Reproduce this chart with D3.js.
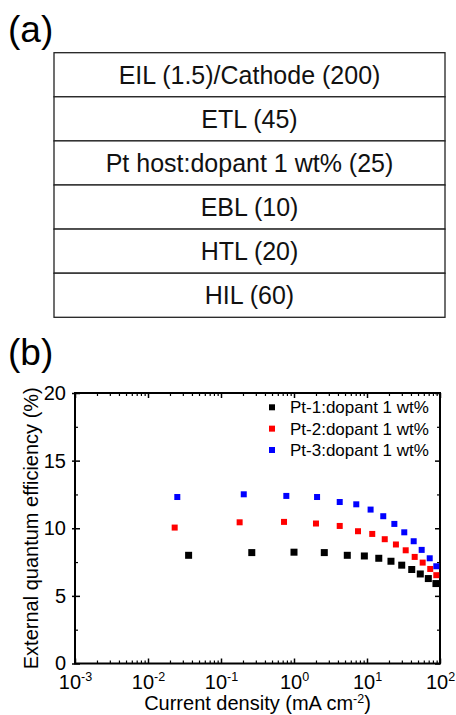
<!DOCTYPE html>
<html><head><meta charset="utf-8">
<script src="https://cdn.jsdelivr.net/npm/d3@7"></script>
<style>body{margin:0;background:#fff;} svg{display:block;font-family:"Liberation Sans",Arial,sans-serif;}</style>
</head><body>
<script>
// Device structure layers (top to bottom)
const layers = ["EIL (1.5)/Cathode (200)", "ETL (45)", "Pt host:dopant 1 wt% (25)", "EBL (10)", "HTL (20)", "HIL (60)"];

// EQE data
const seriesNames = ["Pt-1:dopant 1 wt%", "Pt-2:dopant 1 wt%", "Pt-3:dopant 1 wt%"];
const seriesColors = ["#000000", "#ff0000", "#0000ff"];
const pt1J = [0.036, 0.264, 1.0, 2.6, 5.37, 9.2, 14.5, 21.3, 29.9, 41, 53.7, 69.2, 88];
const pt1EQE = [8.00, 8.20, 8.23, 8.20, 8.00, 7.95, 7.78, 7.56, 7.27, 6.95, 6.62, 6.28, 5.91];
const pt2J = [0.0232, 0.180, 0.73, 2.0, 4.23, 7.53, 11.8, 17.5, 24.9, 33.9, 45, 57.9, 73.5, 89];
const pt2EQE = [10.05, 10.44, 10.47, 10.35, 10.17, 9.78, 9.58, 9.19, 8.80, 8.37, 7.88, 7.46, 6.99, 6.53];
const pt3J = [0.0252, 0.205, 0.785, 2.07, 4.23, 7.13, 11.2, 16.7, 23.7, 32.4, 43.6, 56.1, 72.3, 89];
const pt3EQE = [12.31, 12.51, 12.39, 12.31, 11.94, 11.77, 11.38, 10.89, 10.32, 9.70, 9.04, 8.40, 7.78, 7.19];

const xMajor = [1e-3, 1e-2, 1e-1, 1e0, 1e1, 1e2];
const xExponents = ["-3", "-2", "-1", "0", "1", "2"];
const yMajor = [0, 5, 10, 15, 20];
const yMinor = [2.5, 7.5, 12.5, 17.5];

const W = 456, H = 715;
const svg = d3.select("body").append("svg").attr("width", W).attr("height", H);

// ---------- Panel (a) ----------
svg.append("text").attr("x", 8).attr("y", 42).attr("font-size", 37).text("(a)");
const boxX = 54, boxW = 391, boxTop = 52.7, rowH = 44.1;
const rowScale = d3.scaleBand().domain(layers).range([boxTop, boxTop + rowH * layers.length]).padding(0);
const rows = svg.append("g").selectAll("g").data(layers).join("g");
rows.append("rect")
  .attr("x", boxX).attr("y", d => rowScale(d))
  .attr("width", boxW).attr("height", rowScale.bandwidth())
  .attr("fill", "#fff").attr("stroke", "#222").attr("stroke-width", 1.3);
rows.append("text")
  .attr("x", boxX + boxW / 2).attr("y", d => rowScale(d) + rowScale.bandwidth() / 2 + 9)
  .attr("text-anchor", "middle").attr("font-size", 25).attr("fill", "#111")
  .text(d => d);

// ---------- Panel (b) ----------
svg.append("text").attr("x", 8).attr("y", 365).attr("font-size", 37).text("(b)");

const L = 75, R = 440, T = 393, B = 663.5;
const x = d3.scaleLog().domain([1e-3, 1e2]).range([L, R]);
const y = d3.scaleLinear().domain([0, 20]).range([B, T]);

const xMinor = [];
for (let e = -3; e < 2; e++) for (let k = 2; k <= 9; k++) xMinor.push(k * Math.pow(10, e));

function noDomain(g) { g.select(".domain").remove(); }

// bottom axis: major inside with labels
const gx = svg.append("g").attr("transform", `translate(0,${B})`)
  .call(d3.axisBottom(x).tickValues(xMajor).tickSizeInner(-5).tickSizeOuter(0).tickFormat(() => ""))
  .call(noDomain);
gx.selectAll(".tick line").attr("stroke-width", 1.5);
gx.selectAll(".tick text").each(function(d, i) {
  const t = d3.select(this).attr("font-size", 20).attr("fill", "#000")
    .attr("font-family", "Liberation Sans, Arial, sans-serif").attr("y", 25.5).attr("dy", 0);
  t.append("tspan").text("10");
  t.append("tspan").attr("font-size", 12.5).attr("dy", -8).text(xExponents[i]);
});
svg.append("g").attr("transform", `translate(0,${B})`)
  .call(d3.axisBottom(x).tickValues(xMinor).tickSizeInner(-3).tickSizeOuter(0).tickFormat(() => ""))
  .call(noDomain).selectAll(".tick line").attr("stroke-width", 1.2);
// top axis mirror
svg.append("g").attr("transform", `translate(0,${T})`)
  .call(d3.axisTop(x).tickValues(xMajor).tickSizeInner(-5).tickSizeOuter(0).tickFormat(() => ""))
  .call(noDomain).selectAll(".tick line").attr("stroke-width", 1.5);
svg.append("g").attr("transform", `translate(0,${T})`)
  .call(d3.axisTop(x).tickValues(xMinor).tickSizeInner(-3).tickSizeOuter(0).tickFormat(() => ""))
  .call(noDomain).selectAll(".tick line").attr("stroke-width", 1.2);

// left axis
const gy = svg.append("g").attr("transform", `translate(${L},0)`)
  .call(d3.axisLeft(y).tickValues(yMajor).tickSizeInner(3).tickSizeOuter(0).tickPadding(6).tickFormat(d3.format("d")))
  .call(noDomain);
gy.selectAll(".tick line").attr("stroke-width", 1.5);
gy.selectAll(".tick text").attr("font-size", 20).attr("fill", "#000").attr("font-family", "Liberation Sans, Arial, sans-serif");
svg.append("g").attr("transform", `translate(${L},0)`)
  .call(d3.axisLeft(y).tickValues(yMajor).tickSizeInner(-5).tickSizeOuter(0).tickFormat(() => ""))
  .call(noDomain).selectAll(".tick line").attr("stroke-width", 1.5);
svg.append("g").attr("transform", `translate(${L},0)`)
  .call(d3.axisLeft(y).tickValues(yMinor).tickSizeInner(-3).tickSizeOuter(0).tickFormat(() => ""))
  .call(noDomain).selectAll(".tick line").attr("stroke-width", 1.2);
// right axis mirror
svg.append("g").attr("transform", `translate(${R},0)`)
  .call(d3.axisRight(y).tickValues(yMajor).tickSizeInner(-5).tickSizeOuter(0).tickFormat(() => ""))
  .call(noDomain).selectAll(".tick line").attr("stroke-width", 1.5);
svg.append("g").attr("transform", `translate(${R},0)`)
  .call(d3.axisRight(y).tickValues(yMinor).tickSizeInner(-3).tickSizeOuter(0).tickFormat(() => ""))
  .call(noDomain).selectAll(".tick line").attr("stroke-width", 1.2);

// frame
svg.append("rect").attr("x", L).attr("y", T).attr("width", R - L).attr("height", B - T)
  .attr("fill", "none").attr("stroke", "#000").attr("stroke-width", 2);

// data
const series = [
  { name: seriesNames[0], color: seriesColors[0], size: 7, pts: pt1J.map((j, i) => [j, pt1EQE[i]]) },
  { name: seriesNames[1], color: seriesColors[1], size: 6, pts: pt2J.map((j, i) => [j, pt2EQE[i]]) },
  { name: seriesNames[2], color: seriesColors[2], size: 6, pts: pt3J.map((j, i) => [j, pt3EQE[i]]) }
];
const plot = svg.append("g");
series.forEach(s => {
  plot.append("g").selectAll("rect").data(s.pts).join("rect")
    .attr("x", d => x(d[0]) - s.size / 2).attr("y", d => y(d[1]) - s.size / 2)
    .attr("width", s.size).attr("height", s.size).attr("fill", s.color);
});

// legend
const legY = d3.scalePoint().domain(seriesNames).range([407.3, 450]);
const leg = svg.append("g").selectAll("g").data(series).join("g");
leg.append("rect").attr("x", 272 - 3).attr("y", d => legY(d.name) - 3).attr("width", 6).attr("height", 6).attr("fill", d => d.color);
leg.append("text").attr("x", 290).attr("y", d => legY(d.name) + 6).attr("font-size", 17).attr("fill", "#000").text(d => d.name);

// axis titles
const xt = svg.append("text").attr("x", (L + R) / 2).attr("y", 710).attr("text-anchor", "middle").attr("font-size", 20).attr("fill", "#000");
xt.append("tspan").text("Current density (mA cm");
xt.append("tspan").attr("font-size", 12.5).attr("dy", -7).text("-2");
xt.append("tspan").attr("dy", 7).text(")");

svg.append("text").attr("transform", `translate(38,${(T + B) / 2}) rotate(-90)`)
  .attr("text-anchor", "middle").attr("font-size", 20).attr("fill", "#000")
  .text("External quantum efficiency (%)");
</script>
</body></html>
